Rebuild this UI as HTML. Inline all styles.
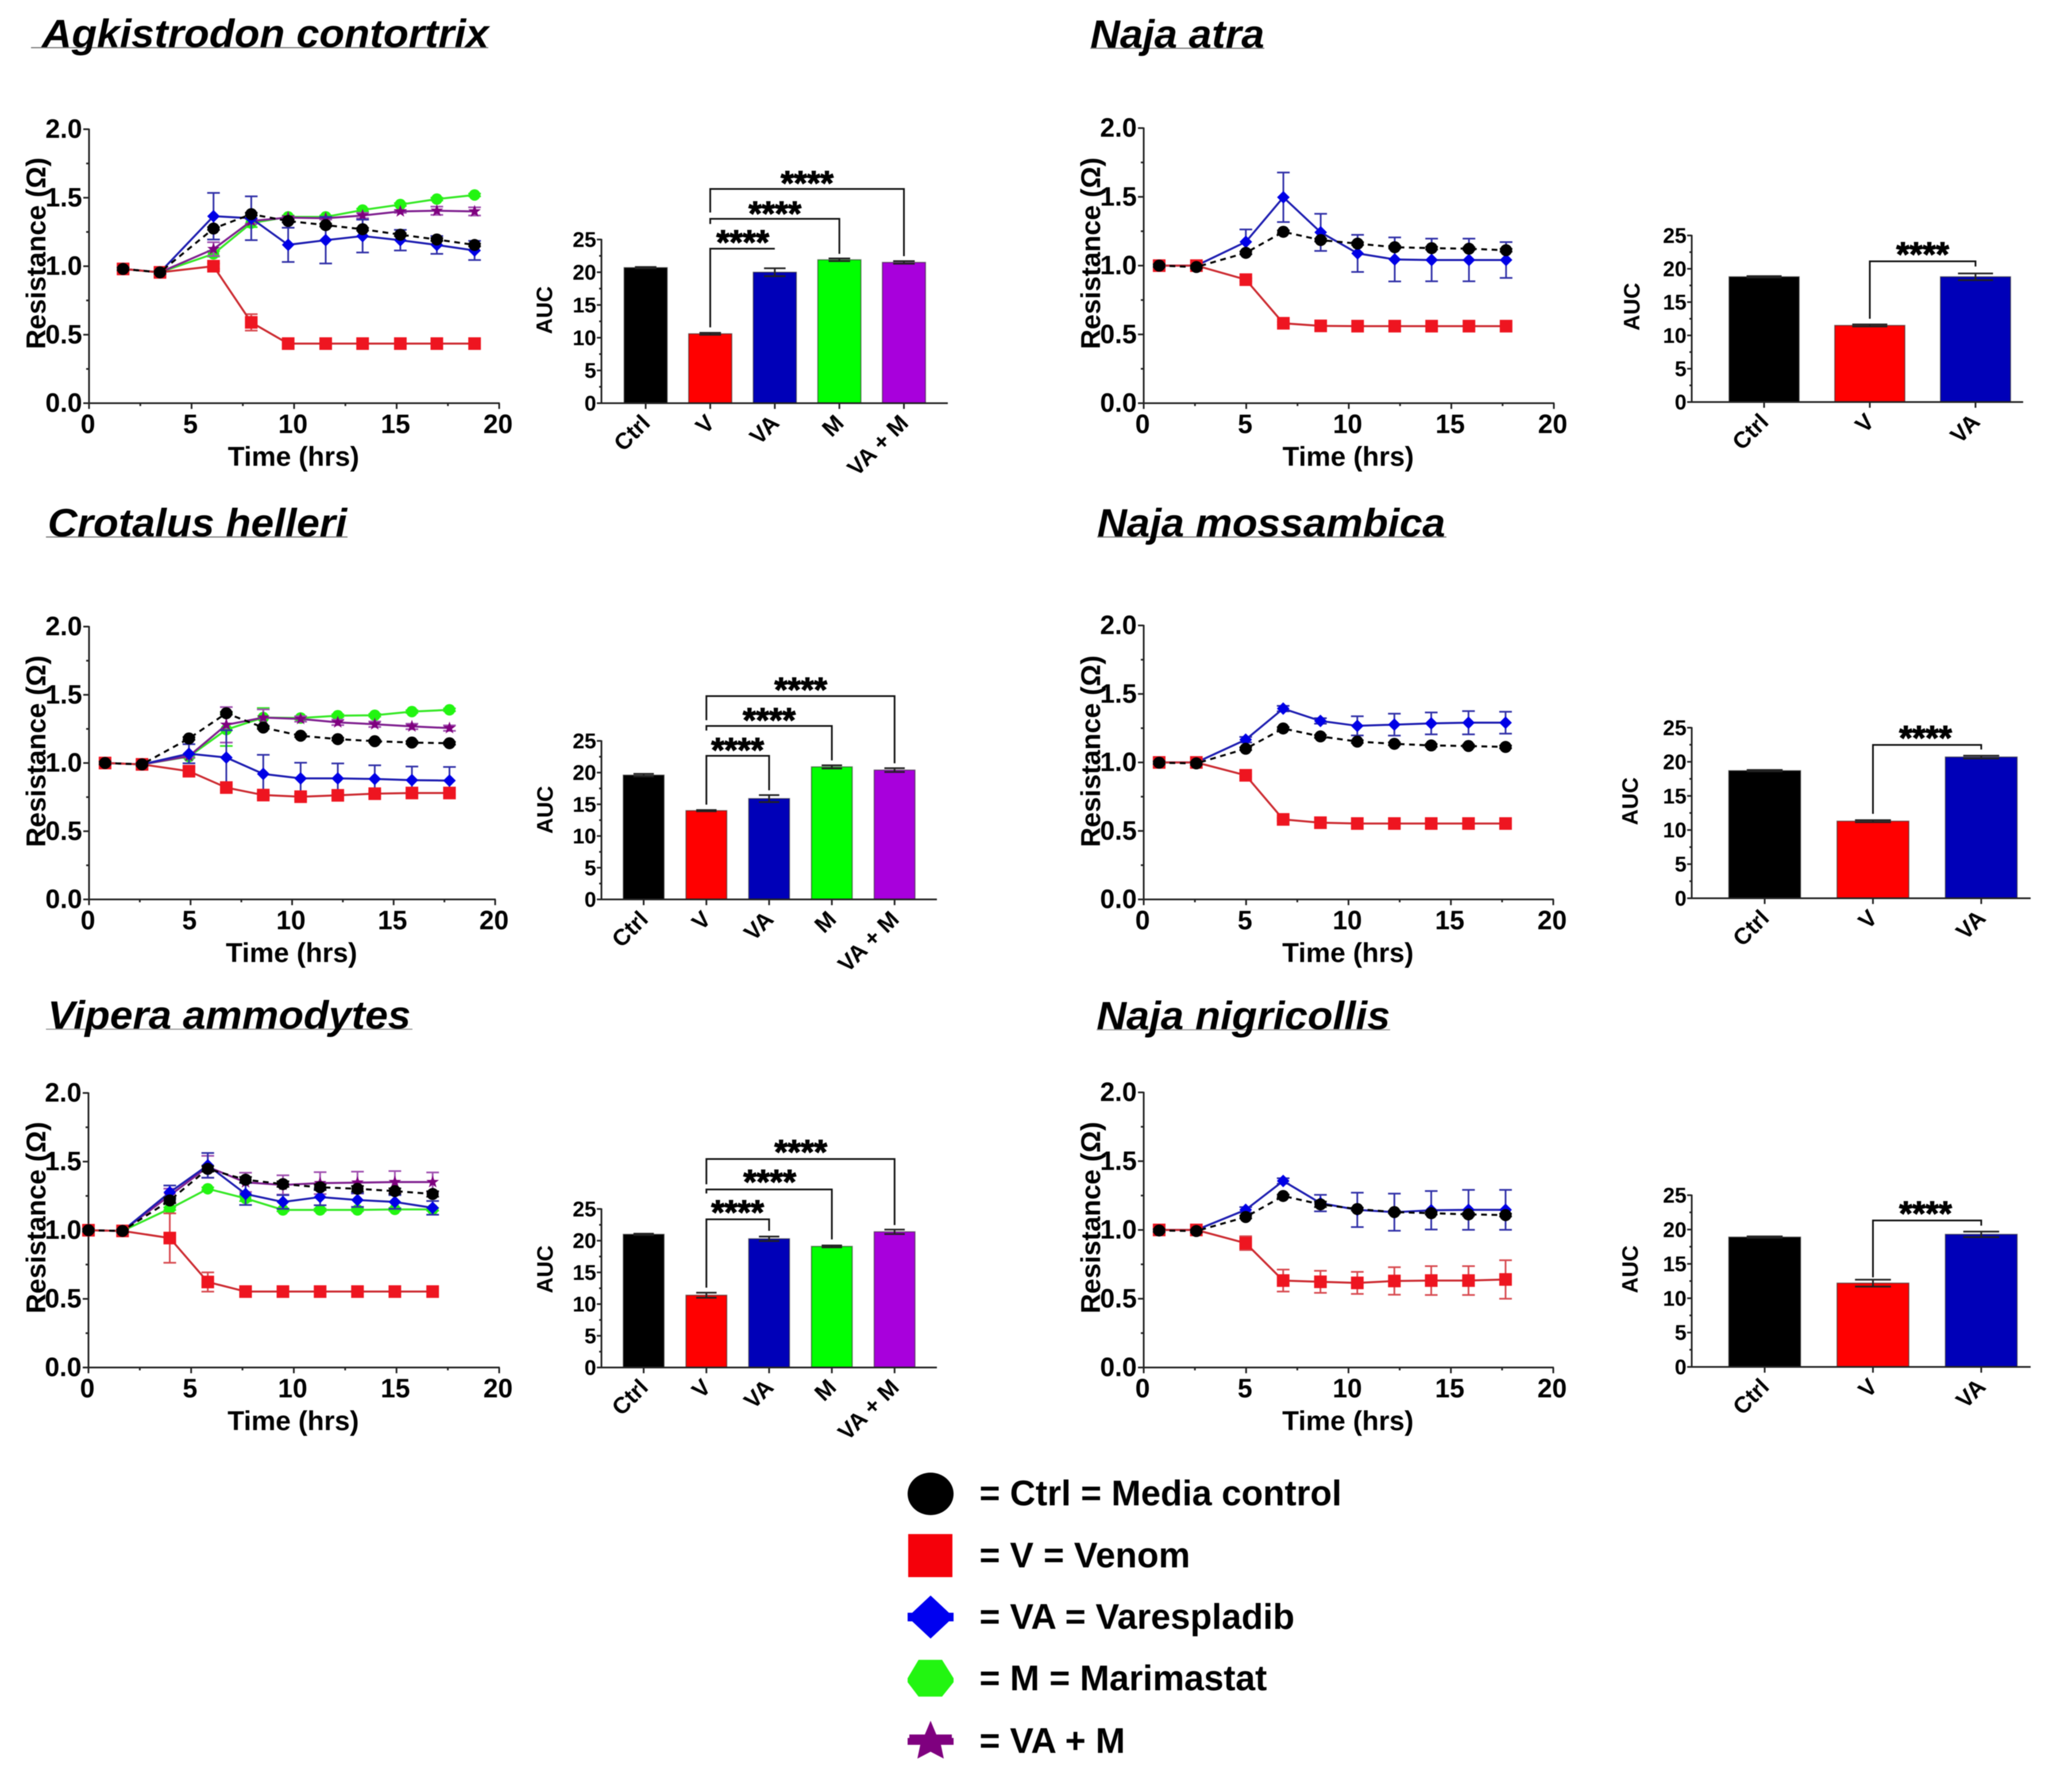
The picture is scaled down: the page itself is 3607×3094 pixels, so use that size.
<!DOCTYPE html>
<html lang="en">
<head>
<meta charset="utf-8">
<title>Resistance and AUC by venom</title>
<style>
html,body{margin:0;padding:0;background:#fff}
svg{display:block;filter:blur(0.8px)}
text{font-family:"Liberation Sans",sans-serif;font-weight:bold;fill:#000}
.ttl{font-style:italic;font-size:69px}
.leg{font-size:61.7px}
</style>
</head>
<body>
<svg id="fig" xmlns="http://www.w3.org/2000/svg" width="3607" height="3094" viewBox="0 0 3607 3094">
<rect width="3607" height="3094" fill="#fff"/>
<g>
<line x1="54" x2="850" y1="83" y2="83" stroke="#777" stroke-width="2"/>
<text class="ttl" x="73" y="82" textLength="778" lengthAdjust="spacingAndGlyphs">Agkistrodon contortrix</text>
<line x1="80" x2="605" y1="935" y2="935" stroke="#777" stroke-width="2"/>
<text class="ttl" x="83" y="934" textLength="521" lengthAdjust="spacingAndGlyphs">Crotalus helleri</text>
<line x1="80" x2="718" y1="1792" y2="1792" stroke="#999" stroke-width="2"/>
<text class="ttl" x="83" y="1791" textLength="632" lengthAdjust="spacingAndGlyphs">Vipera ammodytes</text>
<line x1="1898" x2="2201" y1="84" y2="84" stroke="#777" stroke-width="2"/>
<text class="ttl" x="1898" y="83" textLength="303" lengthAdjust="spacingAndGlyphs">Naja atra</text>
<line x1="1910" x2="2518" y1="935" y2="935" stroke="#777" stroke-width="2"/>
<text class="ttl" x="1910" y="934" textLength="606" lengthAdjust="spacingAndGlyphs">Naja mossambica</text>
<line x1="1909" x2="2420" y1="1793" y2="1793" stroke="#999" stroke-width="2"/>
<text class="ttl" x="1909" y="1792" textLength="511" lengthAdjust="spacingAndGlyphs">Naja nigricollis</text>
</g>
<g>
<g>
<ellipse cx="1620" cy="2601" rx="40" ry="37" fill="#000"/>
<text class="leg" x="1705" y="2621">= Ctrl = Media control</text>
</g>
<g>
<rect x="1581" y="2671" width="77" height="75" fill="#f5000a"/>
<text class="leg" x="1705" y="2729">= V = Venom</text>
</g>
<g>
<polygon points="1620,2778 1652,2808 1660,2808 1660,2823 1652,2823 1620,2853 1588,2823 1580,2823 1580,2808 1588,2808" fill="#0000f0"/>
<text class="leg" x="1705" y="2836">= VA = Varespladib</text>
</g>
<g>
<polygon points="1599,2890 1640,2890 1660,2922 1660,2929 1640,2954 1599,2954 1580,2929 1580,2922" fill="#22f511"/>
<text class="leg" x="1705" y="2943">= M = Marimastat</text>
</g>
<g>
<polygon points="1620,2996 1630,3020 1657,3020 1657,3026 1660,3026 1660,3038 1638,3038 1643,3062 1620,3050 1597,3062 1602,3038 1580,3038 1580,3026 1583,3026 1583,3020 1610,3020" fill="#7f007f"/>
<text class="leg" x="1705" y="3052">= VA + M</text>
</g>
</g>
</svg>
<script>
// ---- tick labels ----
const timeTicks = ['0', '5', '10', '15', '20'];
const resistanceTicks = ['0.0', '0.5', '1.0', '1.5', '2.0'];
const aucTicks = ['0', '5', '10', '15', '20', '25'];
const barCatsFive = ['Ctrl', 'V', 'VA', 'M', 'VA + M'];
const barCatsThree = ['Ctrl', 'V', 'VA'];

// ---- Agkistrodon contortrix ----
const agkTime = [1.66, 3.46, 6.07, 7.91, 9.71, 11.54, 13.34, 15.18, 16.96, 18.8];
const agkCtrl = [0.98, 0.955, 1.275, 1.38, 1.33, 1.30, 1.27, 1.23, 1.195, 1.155];
const agkCtrlErr = [0.01, 0.01, 0.01, 0.01, 0.01, 0.01, 0.01, 0.01, 0.01, 0.01];
const agkV = [0.98, 0.955, 1.0, 0.59, 0.435, 0.435, 0.435, 0.435, 0.435, 0.435];
const agkVErr = [0, 0, 0.02, 0.06, 0, 0, 0, 0, 0, 0];
const agkVA = [0.98, 0.955, 1.365, 1.35, 1.156, 1.19, 1.22, 1.19, 1.155, 1.115];
const agkVAErr = [0, 0, 0.17, 0.16, 0.125, 0.17, 0.12, 0.075, 0.065, 0.07];
const agkM = [0.98, 0.955, 1.09, 1.315, 1.36, 1.36, 1.41, 1.45, 1.49, 1.52];
const agkMErr = [0, 0, 0.02, 0.03, 0.01, 0.01, 0.01, 0.01, 0.01, 0.01];
const agkVAM = [0.98, 0.955, 1.125, 1.33, 1.355, 1.35, 1.37, 1.40, 1.405, 1.40];
const agkVAMErr = [0, 0, 0.05, 0.02, 0.01, 0.01, 0.02, 0.01, 0.03, 0.03];
const agkAuc = [20.7, 10.6, 20, 21.9, 21.5];
const agkAucErr = [0.1, 0.15, 0.6, 0.2, 0.2];

// ---- Crotalus helleri ----
const croTime = [0.79, 2.61, 4.92, 6.76, 8.58, 10.42, 12.25, 14.07, 15.9, 17.75];
const croCtrl = [1.0, 0.99, 1.18, 1.365, 1.26, 1.20, 1.175, 1.16, 1.15, 1.145];
const croCtrlErr = [0.01, 0.01, 0.01, 0.01, 0.01, 0.01, 0.01, 0.01, 0.01, 0.01];
const croV = [1.0, 0.99, 0.94, 0.82, 0.765, 0.753, 0.763, 0.775, 0.78, 0.78];
const croVErr = [0, 0, 0.03, 0.02, 0.02, 0.02, 0.02, 0.02, 0.02, 0.02];
const croVA = [1.0, 0.99, 1.068, 1.04, 0.92, 0.887, 0.887, 0.883, 0.874, 0.871];
const croVAErr = [0, 0, 0.07, 0.2, 0.14, 0.115, 0.11, 0.1, 0.1, 0.1];
const croM = [1.0, 0.99, 1.047, 1.245, 1.333, 1.33, 1.347, 1.35, 1.377, 1.39];
const croMErr = [0, 0, 0.01, 0.12, 0.07, 0.01, 0.01, 0.01, 0.01, 0.01];
const croVAM = [1.0, 0.99, 1.05, 1.28, 1.333, 1.323, 1.298, 1.284, 1.268, 1.256];
const croVAMErr = [0, 0, 0.01, 0.13, 0.06, 0.02, 0.02, 0.02, 0.02, 0.02];
const croAuc = [19.6, 14, 15.9, 20.9, 20.4];
const croAucErr = [0.2, 0.1, 0.55, 0.25, 0.3];

// ---- Vipera ammodytes ----
const vipTime = [0, 1.66, 3.96, 5.81, 7.65, 9.47, 11.28, 13.1, 14.92, 16.76];
const vipCtrl = [1.0, 0.995, 1.217, 1.447, 1.368, 1.336, 1.313, 1.302, 1.285, 1.264];
const vipCtrlErr = [0.01, 0.01, 0.02, 0.02, 0.02, 0.02, 0.02, 0.02, 0.02, 0.02];
const vipV = [1.0, 0.995, 0.943, 0.623, 0.553, 0.553, 0.553, 0.553, 0.553, 0.553];
const vipVErr = [0, 0, 0.18, 0.07, 0, 0, 0, 0, 0, 0];
const vipVA = [1.0, 0.995, 1.276, 1.473, 1.264, 1.206, 1.242, 1.22, 1.206, 1.163];
const vipVAErr = [0, 0, 0.05, 0.09, 0.08, 0.05, 0.06, 0.05, 0.05, 0.05];
const vipM = [1.0, 0.995, 1.157, 1.302, 1.232, 1.148, 1.148, 1.148, 1.152, 1.152];
const vipMErr = [0, 0, 0.01, 0.01, 0.02, 0.01, 0.01, 0.01, 0.01, 0.01];
const vipVAM = [1.0, 0.995, 1.253, 1.462, 1.349, 1.33, 1.343, 1.347, 1.351, 1.351];
const vipVAMErr = [0, 0, 0.05, 0.08, 0.07, 0.07, 0.08, 0.08, 0.08, 0.07];
const vipAuc = [21, 11.4, 20.3, 19.1, 21.4];
const vipAucErr = [0.1, 0.4, 0.35, 0.15, 0.35];

// ---- Naja (shared time points) ----
const najaTime = [0.755, 2.57, 4.98, 6.81, 8.63, 10.43, 12.24, 14.04, 15.86, 17.67];

// ---- Naja atra ----
const atrCtrl = [1.0, 0.99, 1.093, 1.246, 1.186, 1.16, 1.134, 1.127, 1.123, 1.112];
const atrCtrlErr = [0.01, 0.01, 0.01, 0.01, 0.01, 0.01, 0.01, 0.01, 0.01, 0.01];
const atrV = [1.0, 1.0, 0.898, 0.581, 0.562, 0.56, 0.56, 0.56, 0.56, 0.56];
const atrVErr = [0, 0, 0.01, 0.01, 0, 0, 0, 0, 0, 0];
const atrVA = [1.0, 1.0, 1.173, 1.497, 1.242, 1.089, 1.045, 1.041, 1.041, 1.041];
const atrVAErr = [0, 0, 0.09, 0.18, 0.135, 0.135, 0.16, 0.155, 0.155, 0.13];
const atrAuc = [18.8, 11.5, 18.8];
const atrAucErr = [0.1, 0.15, 0.5];

// ---- Naja mossambica ----
const mosCtrl = [0.998, 0.993, 1.10, 1.248, 1.19, 1.152, 1.136, 1.124, 1.12, 1.113];
const mosCtrlErr = [0.01, 0.01, 0.01, 0.01, 0.01, 0.01, 0.01, 0.01, 0.01, 0.01];
const mosV = [1.0, 1.0, 0.906, 0.584, 0.56, 0.554, 0.554, 0.554, 0.554, 0.554];
const mosVErr = [0, 0, 0.01, 0.01, 0, 0, 0, 0, 0, 0];
const mosVA = [1.0, 1.0, 1.166, 1.393, 1.303, 1.267, 1.276, 1.285, 1.29, 1.29];
const mosVAErr = [0, 0, 0.02, 0.02, 0.02, 0.07, 0.08, 0.08, 0.085, 0.08];
const mosAuc = [18.7, 11.3, 20.7];
const mosAucErr = [0.1, 0.15, 0.2];

// ---- Naja nigricollis ----
const nigCtrl = [0.996, 0.992, 1.094, 1.247, 1.186, 1.152, 1.13, 1.122, 1.113, 1.108];
const nigCtrlErr = [0.01, 0.01, 0.01, 0.01, 0.02, 0.01, 0.01, 0.01, 0.01, 0.01];
const nigV = [1.0, 1.0, 0.904, 0.632, 0.623, 0.615, 0.629, 0.632, 0.632, 0.64];
const nigVErr = [0, 0, 0.05, 0.08, 0.08, 0.08, 0.1, 0.105, 0.105, 0.14];
const nigVA = [1.0, 1.0, 1.146, 1.356, 1.195, 1.146, 1.129, 1.143, 1.146, 1.146];
const nigVAErr = [0, 0, 0.02, 0.02, 0.06, 0.125, 0.135, 0.14, 0.145, 0.145];
const nigAuc = [18.9, 12.2, 19.3];
const nigAucErr = [0.1, 0.5, 0.4];

// ---- styling ----
const seriesStyle = {
  m:    {line: '#35e825', err: '#35e825', fill: '#22f511', r: 10, shape: 'circle', label: 'marimastat'},
  vam:  {line: '#7f1f8f', err: '#a050b0', fill: '#7f007f', r: 11, shape: 'star', label: 'va-plus-m'},
  va:   {line: '#1c1cb0', err: '#3030a8', fill: '#0000e6', r: 11, shape: 'diamond', label: 'varespladib'},
  v:    {line: '#cc2a30', err: '#d84a50', fill: '#ee1520', r: 11, shape: 'square', label: 'venom'},
  ctrl: {line: '#000', err: '#111', fill: '#000', r: 10.5, shape: 'circle', label: 'control', dash: '10 8'}
};
const barColors = ['#000000', '#ff0000', '#0000b8', '#00ff00', '#a800dc'];
const NS = 'http://www.w3.org/2000/svg';
const fig = document.getElementById('fig');

function mk(tag, attrs, parent, txt) {
  const n = document.createElementNS(NS, tag);
  for (const k in attrs) n.setAttribute(k, attrs[k]);
  if (txt !== undefined) n.textContent = txt;
  parent.appendChild(n);
  return n;
}

function marker(parent, shape, cx, cy, r, fill, label) {
  let el;
  if (shape === 'circle') {
    el = mk('circle', {cx: cx, cy: cy, r: r, fill: fill}, parent);
  } else if (shape === 'square') {
    el = mk('rect', {x: cx - r, y: cy - r, width: 2 * r, height: 2 * r, fill: fill}, parent);
  } else if (shape === 'diamond') {
    el = mk('polygon', {points: [cx, cy - r, cx + r, cy, cx, cy + r, cx - r, cy].join(' '), fill: fill}, parent);
  } else {
    const pts = [];
    for (let i = 0; i < 10; i++) {
      const rad = i % 2 ? r * 0.42 : r * 1.05;
      const a = -Math.PI / 2 + i * Math.PI / 5;
      pts.push((cx + rad * Math.cos(a)).toFixed(1) + ',' + (cy + rad * Math.sin(a)).toFixed(1));
    }
    el = mk('polygon', {points: pts.join(' '), fill: fill}, parent);
  }
  
  
  return el;
}

function drawLinePanel(p) {
  const g = mk('g', {}, fig);
  
  
  const sx = v => p.x0 + (p.x20 - p.x0) * v / 20;
  const sy = v => p.y0 - (p.y0 - p.y2) * v / 2;

  const axisY = mk('line', {x1: p.x0, x2: p.x0, y1: p.y2 - 1, y2: p.y0 + 1, stroke: '#222', 'stroke-width': 3}, g);
  
  
  const axisX = mk('line', {x1: p.x0 - 10, x2: p.x20 + 1, y1: p.y0, y2: p.y0, stroke: '#222', 'stroke-width': 3}, g);
  
  

  resistanceTicks.forEach((lab, i) => {
    const v = parseFloat(lab);
    const y = sy(v);
    const t = mk('line', {x1: p.x0 - 10, x2: p.x0, y1: y, y2: y, stroke: '#222', 'stroke-width': 3}, g);
    
    
    if (i < resistanceTicks.length - 1) {
      const ym = sy(v + 0.25);
      const tm = mk('line', {x1: p.x0 - 5, x2: p.x0, y1: ym, y2: ym, stroke: '#222', 'stroke-width': 3}, g);
      
      
    }
    const tx = mk('text', {x: p.x0 - 12, y: y + 15, 'text-anchor': 'end', 'font-size': 46}, g, lab);
    
    
  });
  timeTicks.forEach((lab, i) => {
    const v = parseFloat(lab);
    const x = sx(v);
    const t = mk('line', {x1: x, x2: x, y1: p.y0, y2: p.y0 + 10, stroke: '#222', 'stroke-width': 3}, g);
    
    
    if (i < timeTicks.length - 1) {
      const xm = sx(v + 2.5);
      const tm = mk('line', {x1: xm, x2: xm, y1: p.y0, y2: p.y0 + 5, stroke: '#222', 'stroke-width': 3}, g);
      
      
    }
    const tx = mk('text', {x: x - 2, y: p.y0 + 52, 'text-anchor': 'middle', 'font-size': 46}, g, lab);
    
    
  });

  const xt = mk('text', {x: (p.x0 + p.x20) / 2 - 1, y: p.y0 + 109, 'text-anchor': 'middle', 'font-size': 47.5}, g, 'Time (hrs)');
  
  
  const yt = mk('text', {x: 0, y: 0, 'text-anchor': 'middle', 'font-size': 47.5, transform: 'translate(' + p.ylabX + ',' + p.ylabY + ') rotate(-90)'}, g, 'Resistance (\u03A9)');
  
  

  p.series.forEach(s => {
    const st = seriesStyle[s.id];
    const sg = mk('g', {}, g);
    
    
    s.errs.forEach((e, i) => {
      if (!e) return;
      const x = sx(p.time[i]);
      const hi = sy(s.values[i] + e);
      const lo = sy(s.values[i] - e);
      const d = 'M' + x + ' ' + lo + 'V' + hi + 'M' + (x - 11) + ' ' + hi + 'H' + (x + 11) + 'M' + (x - 11) + ' ' + lo + 'H' + (x + 11);
      const eb = mk('path', {d: d, stroke: st.err, 'stroke-width': 3, fill: 'none'}, sg);
      
      
    });
    const pts = s.values.map((v, i) => sx(p.time[i]).toFixed(1) + ',' + sy(v).toFixed(1)).join(' ');
    const attrs = {points: pts, fill: 'none', stroke: st.line, 'stroke-width': 3.5};
    if (st.dash) attrs['stroke-dasharray'] = st.dash;
    const ln = mk('polyline', attrs, sg);
    
    
    s.values.forEach((v, i) => marker(sg, st.shape, sx(p.time[i]), sy(v), st.r, st.fill, st.label));
  });
}

function drawBarPanel(p) {
  const g = mk('g', {}, fig);
  
  
  const cx = i => p.first + i * p.step;
  const sy = v => p.y0 - (p.y0 - p.y25) * v / 25;

  p.values.forEach((v, i) => {
    const b = mk('rect', {x: cx(i) - p.width / 2, y: sy(v), width: p.width, height: p.y0 - sy(v), fill: barColors[i], stroke: '#222', 'stroke-opacity': 0.55, 'stroke-width': 2}, g);
    
    
    const e = p.errs[i];
    const hi = sy(v + e);
    const lo = sy(v - e);
    const half = p.width * 0.25;
    const d = 'M' + cx(i) + ' ' + lo + 'V' + hi + 'M' + (cx(i) - half) + ' ' + hi + 'H' + (cx(i) + half) + 'M' + (cx(i) - half) + ' ' + lo + 'H' + (cx(i) + half);
    const eb = mk('path', {d: d, stroke: '#222', 'stroke-width': 3, fill: 'none'}, g);
    
    
    const t = mk('line', {x1: cx(i), x2: cx(i), y1: p.y0, y2: p.y0 + 10, stroke: '#222', 'stroke-width': 3}, g);
    
    
    const ax = cx(i) + 10;
    const ay = p.y0 + 37;
    const tx = mk('text', {x: 0, y: 0, 'text-anchor': 'end', 'font-size': 40, transform: 'translate(' + ax + ',' + ay + ') rotate(-45)'}, g, p.cats[i]);
    
    
  });

  const axisY = mk('line', {x1: p.axisX, x2: p.axisX, y1: p.y25 - 1, y2: p.y0 + 1, stroke: '#222', 'stroke-width': 3}, g);
  
  
  const axisX = mk('line', {x1: p.axisX - 8, x2: p.axisEnd, y1: p.y0, y2: p.y0, stroke: '#222', 'stroke-width': 3}, g);
  
  

  aucTicks.forEach((lab, i) => {
    const v = parseFloat(lab);
    const y = sy(v);
    const t = mk('line', {x1: p.axisX - 8, x2: p.axisX, y1: y, y2: y, stroke: '#222', 'stroke-width': 3}, g);
    
    
    if (i < aucTicks.length - 1) {
      const ym = sy(v + 2.5);
      const tm = mk('line', {x1: p.axisX - 4, x2: p.axisX, y1: ym, y2: ym, stroke: '#222', 'stroke-width': 3}, g);
      
      
    }
    const tx = mk('text', {x: p.axisX - 9, y: y + 13, 'text-anchor': 'end', 'font-size': 37}, g, lab);
    
    
  });

  const yt = mk('text', {x: 0, y: 0, 'text-anchor': 'middle', 'font-size': 38.5, transform: 'translate(' + p.ylabX + ',' + p.ylabY + ') rotate(-90)'}, g, 'AUC');
  
  

  p.brackets.forEach(b => {
    const xa = cx(1);
    const xb = cx(b.to);
    const d = 'M' + xa + ' ' + b.leftEnd + 'V' + b.y + 'H' + xb + 'V' + b.rightEnd;
    const br = mk('path', {d: d, stroke: '#111', 'stroke-width': 3, fill: 'none'}, g);
    
    
    const st = mk('text', {x: b.sx, y: b.sy + 29, 'text-anchor': 'middle', 'font-size': 59, stroke: '#000', 'stroke-width': 1.5}, g, '****');
    
    
  });
}

function five(t, c, ce, v, ve, va, vae, m, me, vam, vame) {
  return [
    {id: 'm', values: m, errs: me},
    {id: 'vam', values: vam, errs: vame},
    {id: 'va', values: va, errs: vae},
    {id: 'v', values: v, errs: ve},
    {id: 'ctrl', values: c, errs: ce}
  ];
}
function three(c, ce, v, ve, va, vae) {
  return [
    {id: 'va', values: va, errs: vae},
    {id: 'v', values: v, errs: ve},
    {id: 'ctrl', values: c, errs: ce}
  ];
}

drawLinePanel({key: 'agkistrodon', time: agkTime, x0: 155, x20: 869, y2: 225, y0: 702, ylabX: 79, ylabY: 441,
  series: five(agkTime, agkCtrl, agkCtrlErr, agkV, agkVErr, agkVA, agkVAErr, agkM, agkMErr, agkVAM, agkVAMErr)});
drawLinePanel({key: 'crotalus', time: croTime, x0: 155, x20: 862, y2: 1091, y0: 1566, ylabX: 79, ylabY: 1308,
  series: five(croTime, croCtrl, croCtrlErr, croV, croVErr, croVA, croVAErr, croM, croMErr, croVAM, croVAMErr)});
drawLinePanel({key: 'vipera', time: vipTime, x0: 154, x20: 869, y2: 1903, y0: 2381, ylabX: 79, ylabY: 2120,
  series: five(vipTime, vipCtrl, vipCtrlErr, vipV, vipVErr, vipVA, vipVAErr, vipM, vipMErr, vipVAM, vipVAMErr)});
drawLinePanel({key: 'naja-atra', time: najaTime, x0: 1991, x20: 2705, y2: 223, y0: 702, ylabX: 1915, ylabY: 441,
  series: three(atrCtrl, atrCtrlErr, atrV, atrVErr, atrVA, atrVAErr)});
drawLinePanel({key: 'naja-mossambica', time: najaTime, x0: 1991, x20: 2704, y2: 1089, y0: 1566, ylabX: 1915, ylabY: 1308,
  series: three(mosCtrl, mosCtrlErr, mosV, mosVErr, mosVA, mosVAErr)});
drawLinePanel({key: 'naja-nigricollis', time: najaTime, x0: 1991, x20: 2704, y2: 1902, y0: 2381, ylabX: 1915, ylabY: 2120,
  series: three(nigCtrl, nigCtrlErr, nigV, nigVErr, nigVA, nigVAErr)});

drawBarPanel({key: 'agkistrodon', cats: barCatsFive, values: agkAuc, errs: agkAucErr, first: 1124, step: 112.4, width: 75,
  axisX: 1047, axisEnd: 1650, y25: 417, y0: 702, ylabX: 961, ylabY: 540,
  brackets: [
    {to: 2, y: 433, leftEnd: 570, rightEnd: 433, sx: 1293, sy: 413},
    {to: 3, y: 381, leftEnd: 390, rightEnd: 442, sx: 1349, sy: 363},
    {to: 4, y: 329, leftEnd: 370, rightEnd: 446, sx: 1405, sy: 310}
  ]});
drawBarPanel({key: 'crotalus', cats: barCatsFive, values: croAuc, errs: croAucErr, first: 1120.5, step: 109.2, width: 71,
  axisX: 1047, axisEnd: 1631, y25: 1290, y0: 1566, ylabX: 962, ylabY: 1410,
  brackets: [
    {to: 2, y: 1316, leftEnd: 1401, rightEnd: 1376, sx: 1284, sy: 1297},
    {to: 3, y: 1264, leftEnd: 1272, rightEnd: 1324, sx: 1339, sy: 1245},
    {to: 4, y: 1212, leftEnd: 1254, rightEnd: 1329, sx: 1394, sy: 1192}
  ]});
drawBarPanel({key: 'vipera', cats: barCatsFive, values: vipAuc, errs: vipAucErr, first: 1120.5, step: 109.2, width: 71,
  axisX: 1047, axisEnd: 1631, y25: 2105, y0: 2381, ylabX: 962, ylabY: 2210,
  brackets: [
    {to: 2, y: 2123, leftEnd: 2242, rightEnd: 2143, sx: 1284, sy: 2102},
    {to: 3, y: 2071, leftEnd: 2078, rightEnd: 2158, sx: 1340, sy: 2049},
    {to: 4, y: 2018, leftEnd: 2062, rightEnd: 2133, sx: 1394, sy: 1997}
  ]});
drawBarPanel({key: 'naja-atra', cats: barCatsThree, values: atrAuc, errs: atrAucErr, first: 3071, step: 184, width: 122,
  axisX: 2945, axisEnd: 3522, y25: 410, y0: 700, ylabX: 2854, ylabY: 534,
  brackets: [{to: 2, y: 455, leftEnd: 555, rightEnd: 464, sx: 3347, sy: 434}]});
drawBarPanel({key: 'naja-mossambica', cats: barCatsThree, values: mosAuc, errs: mosAucErr, first: 3072, step: 188.5, width: 125,
  axisX: 2945, axisEnd: 3535, y25: 1267, y0: 1564, ylabX: 2851, ylabY: 1395,
  brackets: [{to: 2, y: 1297, leftEnd: 1417, rightEnd: 1305, sx: 3352, sy: 1276}]});
drawBarPanel({key: 'naja-nigricollis', cats: barCatsThree, values: nigAuc, errs: nigAucErr, first: 3072, step: 188.5, width: 125,
  axisX: 2945, axisEnd: 3535, y25: 2081, y0: 2380, ylabX: 2851, ylabY: 2210,
  brackets: [{to: 2, y: 2125, leftEnd: 2224, rightEnd: 2134, sx: 3352, sy: 2104}]});
</script>
</body>
</html>
